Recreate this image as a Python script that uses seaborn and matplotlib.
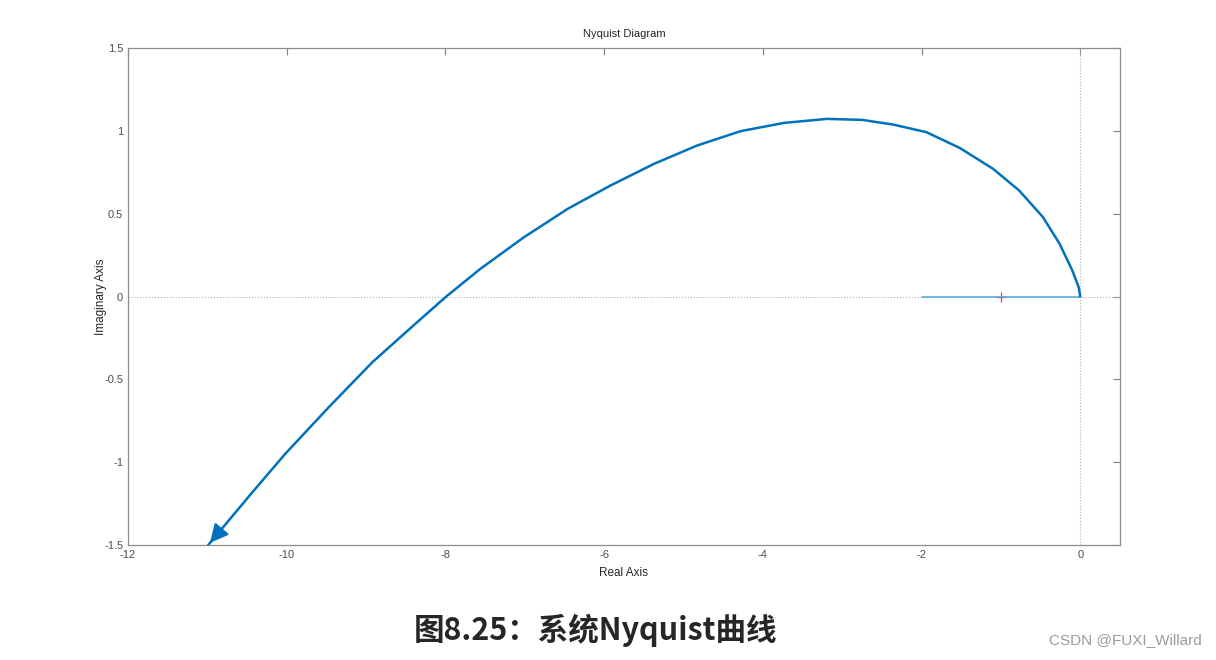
import pandas as pd
import matplotlib.pyplot as plt
import seaborn as sns

# Nyquist curve (real / imaginary parts)
re = [0, -0.02, -0.10, -0.26, -0.47, -0.77, -1.10, -1.52, -1.94, -2.36,
      -2.75, -3.19, -3.73, -4.28, -4.83, -5.37, -5.92, -6.46, -7.01, -7.56,
      -7.99, -8.38, -8.92, -9.47, -10.02, -10.45, -10.89, -10.99]
im = [0, 0.056, 0.157, 0.318, 0.479, 0.640, 0.771, 0.897, 0.992, 1.038,
      1.066, 1.072, 1.048, 0.998, 0.911, 0.801, 0.670, 0.529, 0.358, 0.167,
      0.0, -0.165, -0.396, -0.668, -0.950, -1.191, -1.443, -1.50]
seg_re = [-2, 0]
seg_im = [0, 0]
crit_re = [-1]
crit_im = [0]
xticks = [-12, -10, -8, -6, -4, -2, 0]
yticks = [-1.5, -1, -0.5, 0, 0.5, 1, 1.5]
ytick_labels = ['-1.5', '-1', '-0.5', '0', '0.5', '1', '1.5']

sns.set_style('white')
plt.rcParams['font.family'] = ['Liberation Sans', 'DejaVu Sans']
plt.rcParams['axes.unicode_minus'] = False

df = pd.DataFrame({'re': re, 'im': im})
seg = pd.DataFrame({'re': seg_re, 'im': seg_im})

fig = plt.figure(figsize=(12.16, 6.6), dpi=100)
ax = fig.add_axes([0.1053, 0.1742, 0.8157, 0.7531])

ax.axhline(0, color='#b0b0b0', ls=':', lw=0.8, zorder=1)
ax.axvline(0, color='#b0b0b0', ls=':', lw=0.8, zorder=1)

ax.plot(crit_re, crit_im, marker='+', color='#ff3030', ms=7, mew=0.9, ls='none', zorder=2)
sns.lineplot(data=seg, x='re', y='im', sort=False, color='#4da6e0', lw=1.1, ax=ax, zorder=3)
sns.lineplot(data=df, x='re', y='im', sort=False, color='#0072BD', lw=1.8, ax=ax, zorder=4,
             solid_joinstyle='round')

# arrow head at the end of the curve
ax.annotate('', xy=(re[-1], im[-1]), xytext=(re[-2], im[-2]),
            arrowprops=dict(arrowstyle='-|>', color='#0072BD', mutation_scale=28, lw=1.5),
            annotation_clip=False)

ax.set_xlim(-12, 0.5)
ax.set_ylim(-1.5, 1.5)
ax.set_xticks(xticks)
ax.set_yticks(yticks)
ax.set_yticklabels(ytick_labels)
ax.tick_params(direction='in', length=5, width=0.8, colors='#808080',
               labelcolor='#4d4d4d', labelsize=8, top=True, right=True)
for s in ax.spines.values():
    s.set_color('#8c8c8c')
    s.set_linewidth(0.9)

ax.set_title('Nyquist Diagram', fontsize=8, color='#262626', pad=8)
ax.set_xlabel('Real Axis', fontsize=8.5, color='#262626', labelpad=5)
ax.set_ylabel('Imaginary Axis', fontsize=8.5, color='#262626', labelpad=-2)

fig.text(0.49, 0.045, '图8.25：系统Nyquist曲线', ha='center', va='center',
         fontsize=22, fontweight='bold', family=['Noto Sans CJK SC', 'DejaVu Sans'])
fig.text(0.988, 0.03, 'CSDN @FUXI_Willard', ha='right', va='center',
         fontsize=11, color='#9a9a9a')

fig.savefig('out.png', dpi=100)
